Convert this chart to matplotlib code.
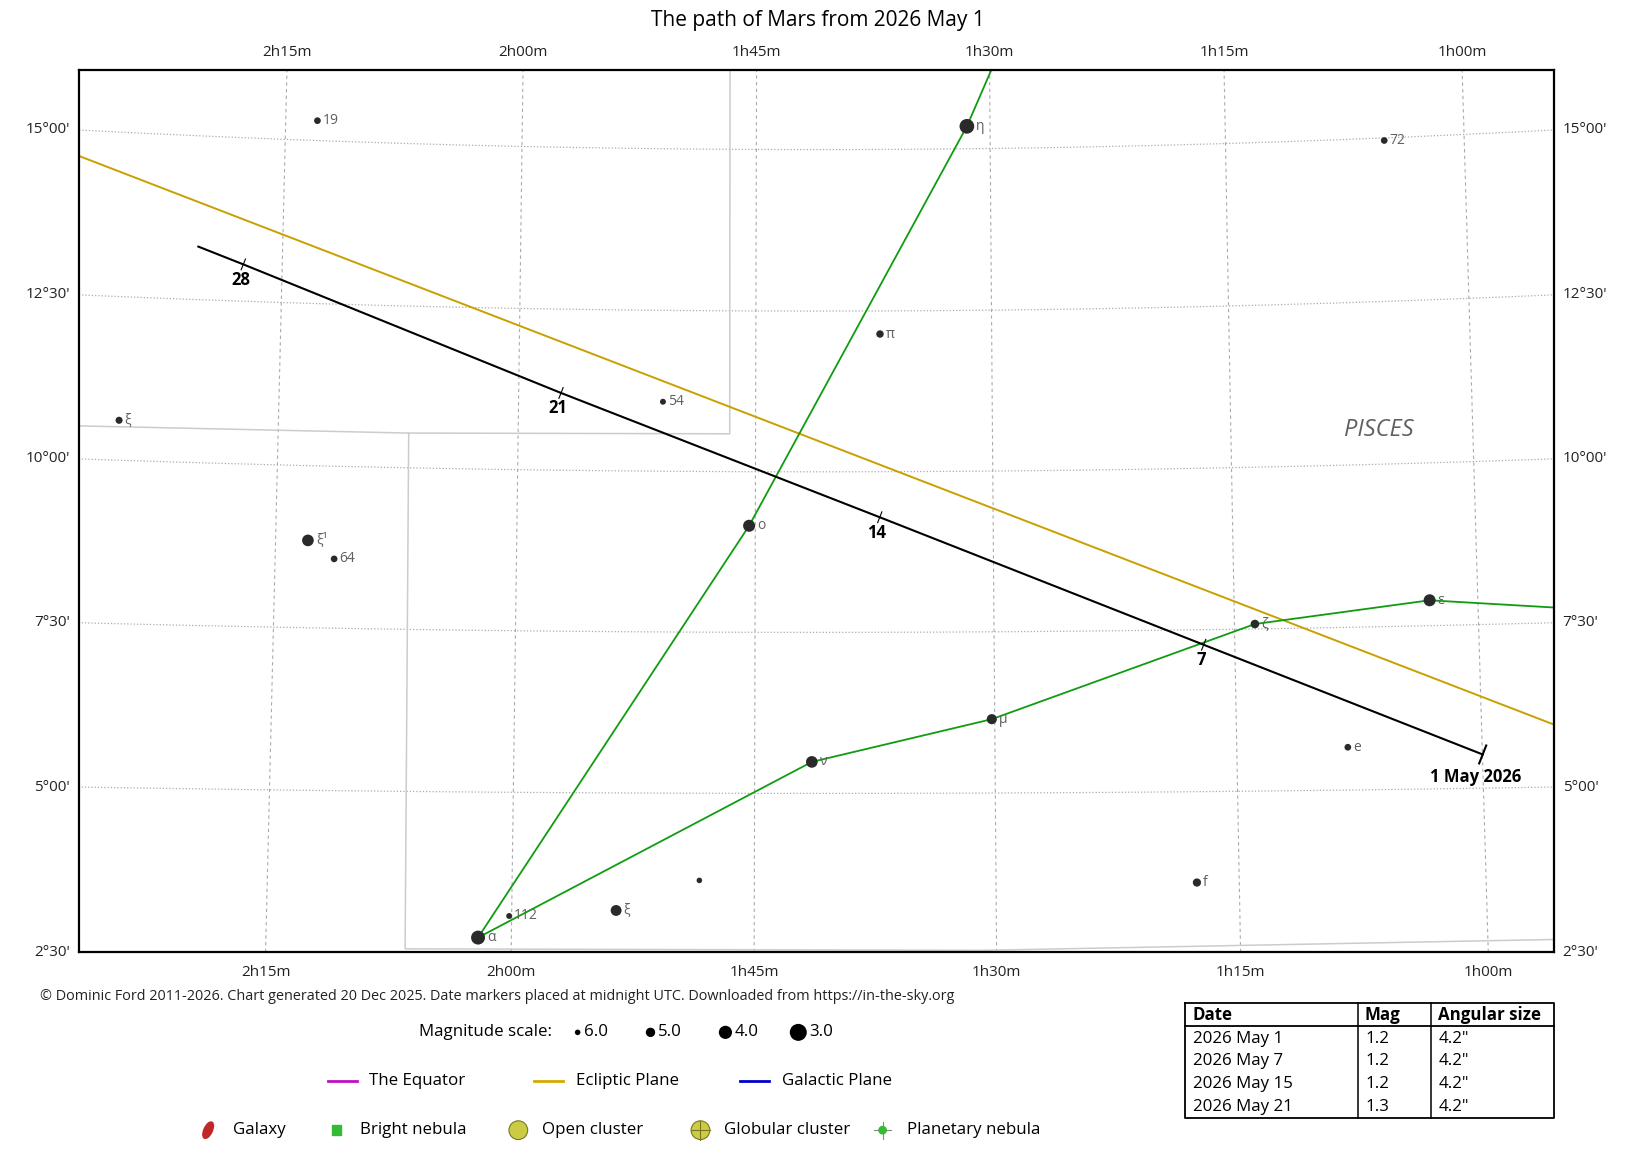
import numpy as np
import matplotlib.pyplot as plt
from matplotlib.patches import Ellipse, Rectangle

plt.rcParams['font.family'] = ['Open Sans', 'DejaVu Sans']

# chart centre (RA, Dec in degrees) and half size of the map in projected degrees
RA0, DEC0 = 25.285, 9.39
HALF_W, HALF_H = 11.483, 6.872

# stars
star_names = ['19', '72', 'η', 'π', '54', 'ξ', 'ο', 'ξ¹', '64', 'ε', 'ζ',
              'μ', 'ν', 'e', '', 'f', 'ξ', '112', 'α']
star_ra = [33.251, 16.248, 22.871, 24.275, 27.719, 36.204, 26.348, 33.250,
           32.838, 15.736, 18.433, 22.546, 25.358, 17.044, 27.103, 19.400,
           28.389, 30.038, 30.512]
star_dec = [15.304, 14.961, 15.346, 12.142, 11.081, 10.611, 9.158, 8.847,
            8.570, 7.890, 7.576, 6.144, 5.488, 5.657, 3.654, 3.604, 3.188,
            3.097, 2.764]
star_mag = [5.7, 5.7, 3.6, 5.5, 5.9, 5.6, 4.3, 4.4, 5.7, 4.3, 5.2, 4.8, 4.4,
            5.7, 6.0, 5.3, 4.6, 5.9, 3.8]

# constellation stick figures (RA, Dec)
fig1_ra = [20.952, 22.871, 26.348, 30.512]
fig1_dec = [19.41, 15.346, 9.158, 2.764]
fig2_ra = [30.512, 25.358, 22.546, 18.433, 15.736, 12.171]
fig2_dec = [2.764, 5.488, 6.144, 7.576, 7.890, 7.585]

# constellation boundaries
bnd1_ra = [37.5, 36.857, 31.717, 26.659, 26.68]
bnd1_dec = [10.49, 10.503, 10.538, 10.589, 17.0]
bnd2_ra = [31.717, 31.627, 22.739, 13.968, 12.0]
bnd2_dec = [10.538, 2.587, 2.577, 2.694, 2.73]

# ecliptic
ecl_ra = [10.0, 20.0, 30.0, 40.0]
ecl_dec = [4.305, 8.434, 12.231, 15.572]

# Mars: May 1, 7, 14, 21, 28, 29
mars_ra = [14.996, 19.233, 24.287, 29.332, 34.357, 35.063]
mars_dec = [5.514, 7.267, 9.291, 11.200, 13.065, 13.311]
mars_labels = ['1 May 2026', '7', '14', '21', '28']

# table
tab_dates = ['2026 May 1', '2026 May 7', '2026 May 15', '2026 May 21']
tab_mag = ['1.2', '1.2', '1.2', '1.3']
tab_size = ['4.2"', '4.2"', '4.2"', '4.2"']

legend_mags = [6.0, 5.0, 4.0, 3.0]


def project(ra, dec):
    a = np.radians(np.asarray(ra, dtype=float) - RA0)
    d = np.radians(np.asarray(dec, dtype=float))
    d0 = np.radians(DEC0)
    cosc = np.sin(d0) * np.sin(d) + np.cos(d0) * np.cos(d) * np.cos(a)
    x = np.cos(d) * np.sin(a) / cosc
    y = (np.cos(d0) * np.sin(d) - np.sin(d0) * np.cos(d) * np.cos(a)) / cosc
    return -np.degrees(x), np.degrees(y)


def mag_size(m):
    # marker diameter in points
    px = 3.81 * (7.46 - np.asarray(m, dtype=float))
    return px * 0.72


W, H = 1569.0, 1106.0
FS = 12.2
fig = plt.figure(figsize=(16.33, 11.51), dpi=100)

page = fig.add_axes([0, 0, 1, 1], zorder=-1)
page.set_xlim(0, W)
page.set_ylim(H, 0)
page.axis('off')

ax = fig.add_axes([76 / W, 1 - 915 / H, (1493 - 76) / W, (915 - 67) / H])
ax.set_xlim(-HALF_W, HALF_W)
ax.set_ylim(-HALF_H, HALF_H)
ax.set_xticks([])
ax.set_yticks([])
for sp in ax.spines.values():
    sp.set_linewidth(1.6)
    sp.set_zorder(10)

grid_col = '#ababab'
lab_kw = dict(fontsize=11, color='#222222', clip_on=False)

# meridians
for ra in np.arange(11.25, 41.25, 3.75):
    dd = np.linspace(-5, 25, 300)
    gx, gy = project(np.full_like(dd, ra), dd)
    ax.plot(gx, gy, color=grid_col, lw=0.8, ls=(0, (3, 3)), zorder=1)
    mins = int(round(ra * 4))
    txt = f"{mins // 60}h{mins % 60:02d}m"
    for edge, off in [(HALF_H, 0.019), (-HALF_H, -0.023)]:
        xe = np.interp(edge, gy, gx)
        if -HALF_W < xe < HALF_W:
            ax.text((xe + HALF_W) / (2 * HALF_W), (edge + HALF_H) / (2 * HALF_H) + off,
                    txt, transform=ax.transAxes, ha='center', va='center', **lab_kw)

# parallels
for dec in np.arange(0, 20, 2.5):
    rr = np.linspace(5, 45, 300)
    gx, gy = project(rr, np.full_like(rr, dec))
    ax.plot(gx, gy, color=grid_col, lw=0.9, ls=(0, (1, 1.6)), zorder=1)
    txt = f"{int(dec)}°{int(round((dec % 1) * 60)):02d}'"
    for edge, ha, off in [(-HALF_W, 'right', -0.006), (HALF_W, 'left', 0.006)]:
        ye = np.interp(edge, gx[::-1], gy[::-1])
        if -HALF_H - 0.05 < ye < HALF_H:
            ax.text((edge + HALF_W) / (2 * HALF_W) + off, (ye + HALF_H) / (2 * HALF_H),
                    txt, transform=ax.transAxes, ha=ha, va='center', **lab_kw)

# boundaries
for bra, bdec in [(bnd1_ra, bnd1_dec), (bnd2_ra, bnd2_dec)]:
    bx, by = project(bra, bdec)
    ax.plot(bx, by, color='#cccccc', lw=1.1, zorder=2)

# ecliptic
ex, ey = project(ecl_ra, ecl_dec)
ax.plot(ex, ey, color='#c8a000', lw=1.4, zorder=3)

# stick figures
for fra, fdec in [(fig1_ra, fig1_dec), (fig2_ra, fig2_dec)]:
    fx, fy = project(fra, fdec)
    ax.plot(fx, fy, color='#109c10', lw=1.3, zorder=3)

# stars
sx, sy = project(star_ra, star_dec)
diam = mag_size(star_mag)
ax.scatter(sx, sy, s=diam ** 2, color='#2a2a2a', edgecolors='none', zorder=5)
for name, x, y, d in zip(star_names, sx, sy, diam):
    if name:
        ax.annotate(name, (x, y), xytext=(d / 2 + 1.5, 0), textcoords='offset points',
                    ha='left', va='center', fontsize=10, color='#606060', zorder=6)

# constellation name
px, py = project(16.444, 10.53)
ax.text(px, py, 'PISCES', fontsize=17, style='italic', color='#606060',
        ha='center', va='center', zorder=6)

# Mars path
mx, my = project(mars_ra, mars_dec)
ax.plot(mx, my, color='black', lw=1.5, zorder=7)
for i, lab in enumerate(mars_labels):
    j0, j1 = max(i - 1, 0), min(i + 1, len(mx) - 1)
    dx, dy = mx[j1] - mx[j0], my[j1] - my[j0]
    n = np.hypot(dx, dy)
    px_, py_ = -dy / n, dx / n
    big = (i == 0)
    h = 0.15 if big else 0.09
    ax.plot([mx[i] - px_ * h, mx[i] + px_ * h], [my[i] - py_ * h, my[i] + py_ * h],
            color='black', lw=1.5 if big else 0.8, zorder=7)
    off = (-5, -16) if big else (-2, -11)
    ax.annotate(lab, (mx[i], my[i]), xytext=off, textcoords='offset points',
                ha='center', va='center', fontsize=12, fontweight='bold', zorder=8)

# title and credits
page.text(786, 20, 'The path of Mars from 2026 May 1', ha='center', va='center', fontsize=15)
page.text(38, 958, '© Dominic Ford 2011-2026. Chart generated 20 Dec 2025. Date markers placed at '
          'midnight UTC. Downloaded from https://in-the-sky.org',
          ha='left', va='center', fontsize=10.4, color='#222222')

# magnitude scale
page.text(530, 992, 'Magnitude scale:', ha='right', va='center', fontsize=FS)
for m, xm in zip(legend_mags, [555, 625, 697, 767]):
    page.scatter([xm], [992], s=mag_size(m) ** 2, color='black', edgecolors='none')
    page.text(xm + 4 + mag_size(m) / 2, 992, f"{m:.1f}", ha='left', va='center', fontsize=FS)

# line legend
for col, lab, xl in [('#c010c0', 'The Equator', 315), ('#d4aa00', 'Ecliptic Plane', 513),
                     ('#0000cc', 'Galactic Plane', 711)]:
    page.plot([xl, xl + 28], [1039, 1039], color=col, lw=2)
    page.text(xl + 40, 1039, lab, ha='left', va='center', fontsize=FS)

# object legend
yl = 1086
page.add_patch(Ellipse((200, yl), 8, 17, angle=25, color='#c02828'))
page.text(224, yl, 'Galaxy', ha='left', va='center', fontsize=FS)
page.add_patch(Rectangle((319, yl - 5), 9, 10, color='#33bb33'))
page.text(346, yl, 'Bright nebula', ha='left', va='center', fontsize=FS)
page.add_patch(Ellipse((498, yl), 18, 18, facecolor='#cccc44', edgecolor='#777722', lw=0.8))
page.text(521, yl, 'Open cluster', ha='left', va='center', fontsize=FS)
page.add_patch(Ellipse((673, yl), 18, 18, facecolor='#cccc44', edgecolor='#777722', lw=0.8))
page.plot([664, 682], [yl, yl], color='#777722', lw=0.8)
page.plot([673, 673], [yl - 9, yl + 9], color='#777722', lw=0.8)
page.text(696, yl, 'Globular cluster', ha='left', va='center', fontsize=FS)
page.plot([840, 856], [yl, yl], color='#888888', lw=0.8)
page.plot([848, 848], [yl - 8, yl + 8], color='#888888', lw=0.8)
page.add_patch(Ellipse((848, yl), 7, 7, color='#33bb33', zorder=3))
page.text(871, yl, 'Planetary nebula', ha='left', va='center', fontsize=FS)

# data table
tl, tr, tt, tb = 1139, 1493, 964, 1074
c1, c2 = 1304.5, 1375
page.plot([tl, tr, tr, tl, tl], [tt, tt, tb, tb, tt], color='black', lw=1.3)
page.plot([tl, tr], [985.5, 985.5], color='black', lw=1.3)
page.plot([c1, c1], [tt, tb], color='black', lw=1.1)
page.plot([c2, c2], [tt, tb], color='black', lw=1.1)
for txt, xt in [('Date', tl + 7), ('Mag', c1 + 7), ('Angular size', c2 + 7)]:
    page.text(xt, 975, txt, ha='left', va='center', fontsize=FS, fontweight='bold')
for k, (d, m, s) in enumerate(zip(tab_dates, tab_mag, tab_size)):
    yr = 998 + k * 21.9
    page.text(tl + 7, yr, d, ha='left', va='center', fontsize=FS)
    page.text(c1 + 7, yr, m, ha='left', va='center', fontsize=FS)
    page.text(c2 + 7, yr, s, ha='left', va='center', fontsize=FS)

fig.savefig('out.png', dpi=100, facecolor='white')
